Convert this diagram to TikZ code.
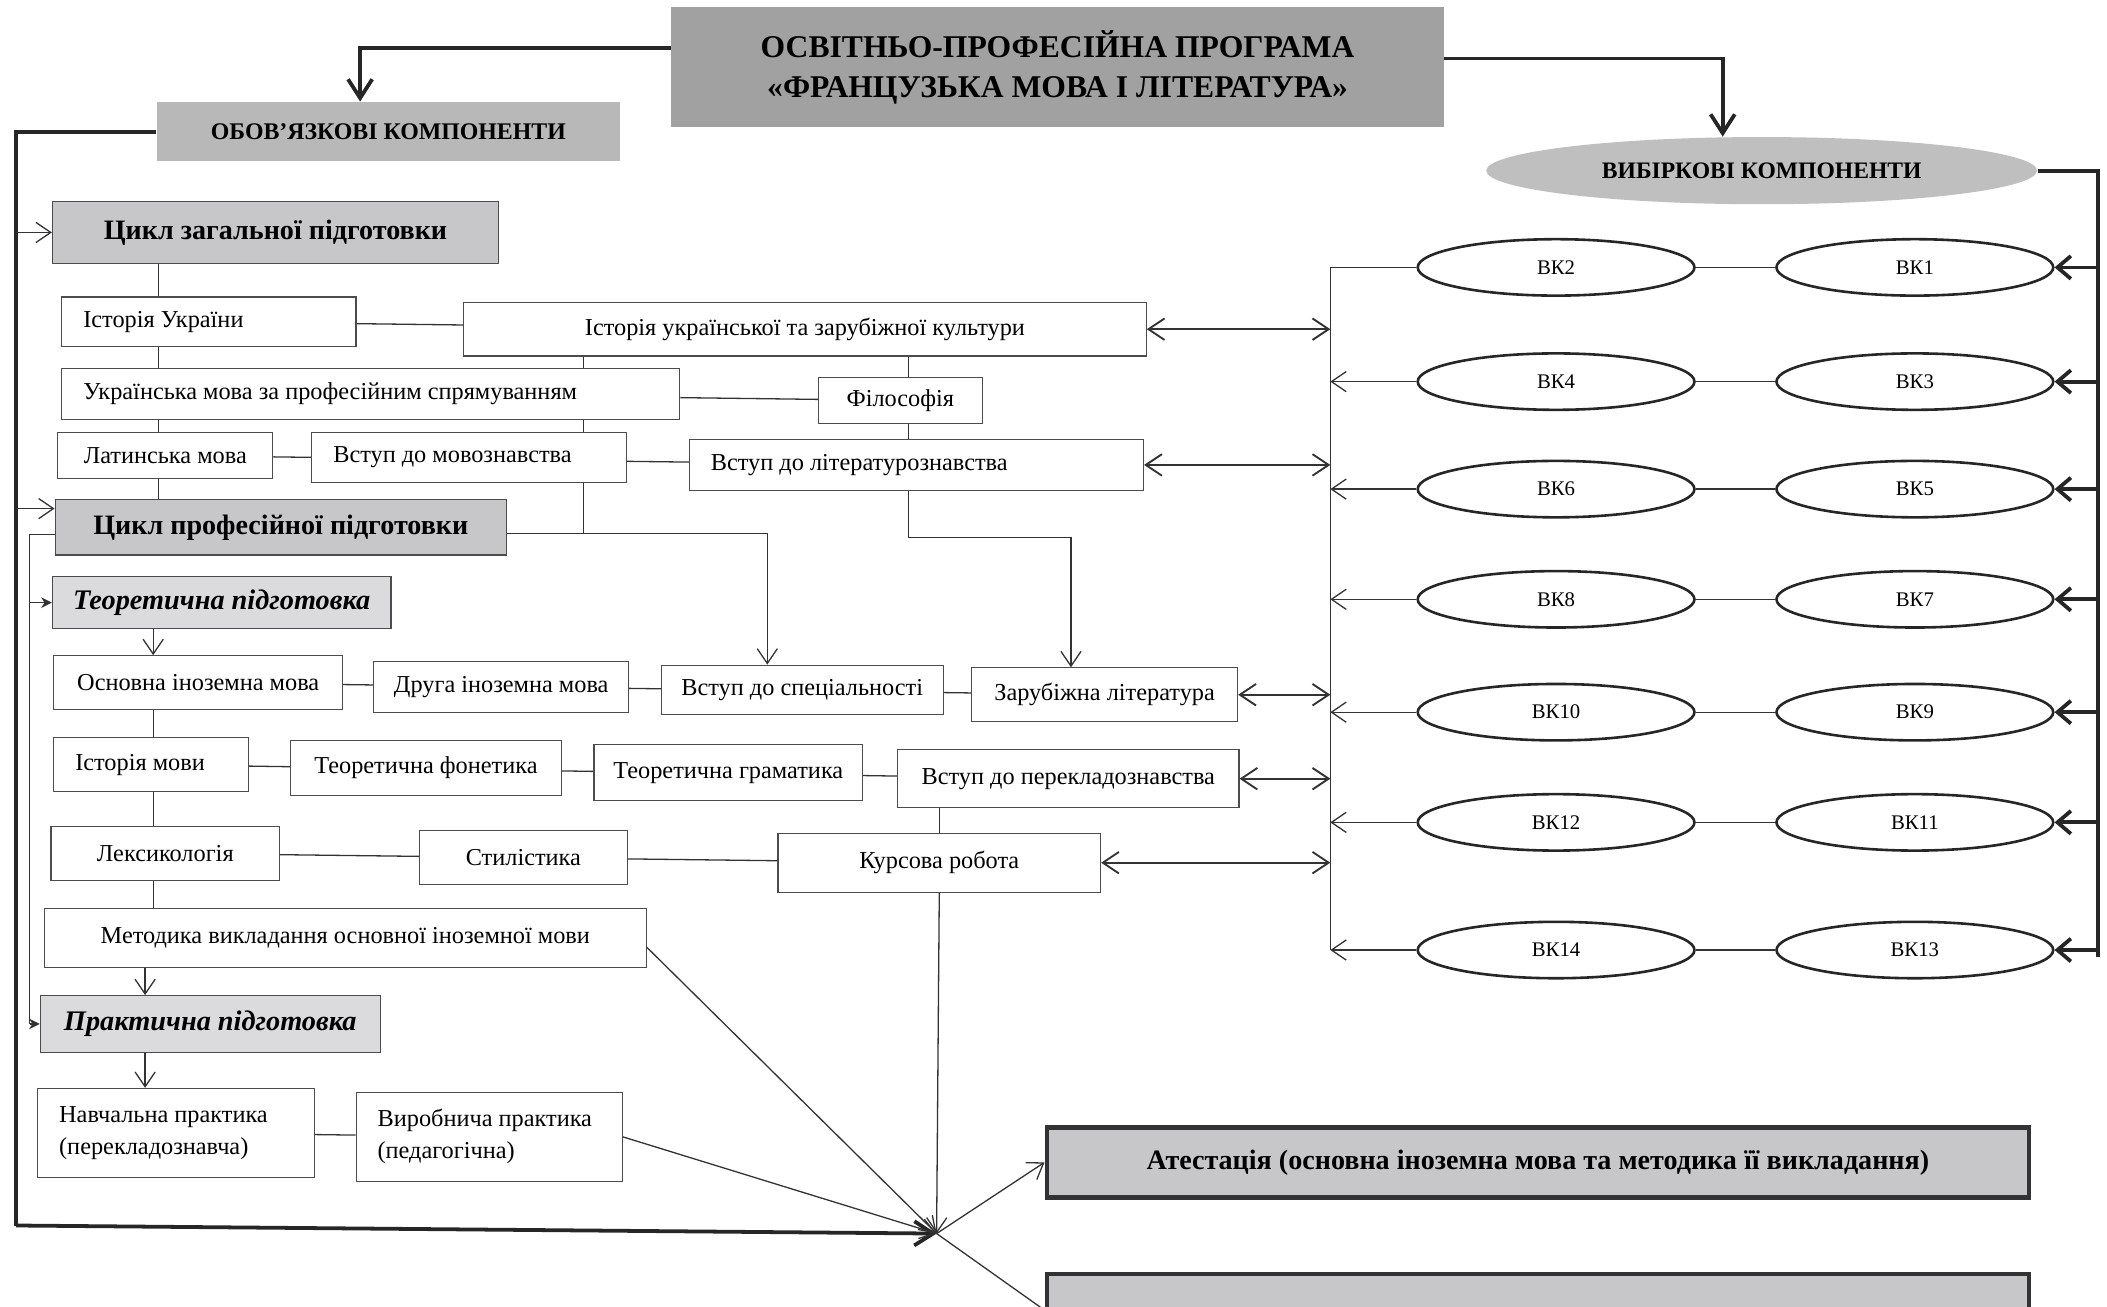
\documentclass[tikz,border=0pt]{standalone}
\usepackage{fontspec}
\setmainfont{Liberation Serif}
\usetikzlibrary{arrows.meta, shapes.geometric, backgrounds}
\begin{document}
\begin{tikzpicture}[
        x=0.02cm, y=-0.02cm,
        box/.style={draw=black!70, line width=0.5pt, fill=white, inner sep=0pt, font=\fontsize{10.3}{13.6}\selectfont},
        lbox/.style={box, inner xsep=0.32cm, align=flush left},
        hbox/.style={box, fill=blue!3!black!22, font=\fontsize{11.9}{14}\selectfont\bfseries},
        sbox/.style={box, fill=blue!5!black!14, font=\fontsize{12}{14}\selectfont\bfseries\itshape},
        vk/.style={ellipse, draw=black!85, line width=1.1pt, fill=white, minimum width=4.12cm, minimum height=0.84cm, inner sep=0pt, font=\fontsize{8.8}{10}\selectfont},
        link/.style={line width=0.55pt, black!80},
        arr/.style={link, -{Straight Barb[length=0.22cm, width=0.3cm]}},
        sarr/.style={link, -{Stealth[length=0.16cm, width=0.16cm]}},
        darr/.style={link, line width=0.8pt, {Straight Barb[length=0.24cm, width=0.32cm]}-{Straight Barb[length=0.24cm, width=0.32cm]}},
        main/.style={line width=1.6pt, black!85},
        marr/.style={main, -{Straight Barb[length=0.28cm, width=0.36cm]}},
        varr/.style={main, -{Straight Barb[length=0.2cm, width=0.34cm]}}
    ]
        \useasboundingbox (0,0) rectangle (1568,972);
        \clip (0,0) rectangle (1568,972);

        \node[box, draw=none, fill=black!37, minimum width=11.5cm, minimum height=1.78cm, align=center, font=\fontsize{13.4}{17}\selectfont\bfseries] (prog) at (787,50) {ОСВІТНЬО-ПРОФЕСІЙНА ПРОГРАМА\\«ФРАНЦУЗЬКА МОВА І ЛІТЕРАТУРА»};
        \node[box, draw=none, fill=black!28, minimum width=6.9cm, minimum height=0.88cm, font=\fontsize{10.1}{12}\selectfont\bfseries] (obov) at (289,98) {ОБОВ’ЯЗКОВІ КОМПОНЕНТИ};
        \node[ellipse, fill=black!25, minimum width=8.2cm, minimum height=1cm, inner sep=0pt, font=\fontsize{10}{12}\selectfont\bfseries] (vybir) at (1311,127) {ВИБІРКОВІ КОМПОНЕНТИ};

        \node[hbox, minimum width=6.64cm, minimum height=0.92cm] (zah) at (205,173) {Цикл загальної підготовки};
        \node[lbox, text width=3.74cm, minimum height=0.74cm] (istukr) at (155.5,239.5) {Історія України};
        \node[box, minimum width=10.16cm, minimum height=0.8cm] (kult) at (599,245) {Історія української та зарубіжної культури};
        \node[lbox, text width=8.56cm, minimum height=0.76cm] (ukrmova) at (276,293) {Українська мова за професійним спрямуванням};
        \node[box, minimum width=2.44cm, minimum height=0.68cm] (filos) at (670,298) {Філософія};
        \node[box, minimum width=3.2cm, minimum height=0.68cm] (latyn) at (123,339) {Латинська мова};
        \node[lbox, text width=4.04cm, minimum height=0.74cm] (movozn) at (349,340.5) {Вступ до мовознавства};
        \node[lbox, text width=6.12cm, minimum height=0.76cm] (litzn) at (682,346) {Вступ до літературознавства};

        \node[hbox, minimum width=6.72cm, minimum height=0.82cm] (prof) at (209,392.5) {Цикл професійної підготовки};
        \node[sbox, minimum width=5.04cm, minimum height=0.78cm] (teor) at (165,448.5) {Теоретична підготовка};
        \node[box, minimum width=4.3cm, minimum height=0.8cm] (osn) at (147.5,508) {Основна іноземна мова};
        \node[box, minimum width=3.8cm, minimum height=0.76cm] (druha) at (373,511) {Друга іноземна мова};
        \node[box, minimum width=4.2cm, minimum height=0.74cm] (spec) at (597,513.5) {Вступ до спеціальності};
        \node[box, minimum width=3.96cm, minimum height=0.8cm] (zarlit) at (822,517) {Зарубіжна література};
        \node[lbox, text width=2.26cm, minimum height=0.8cm] (istmovy) at (112.5,569) {Історія мови};
        \node[box, minimum width=4.04cm, minimum height=0.82cm] (fonet) at (317,571.5) {Теоретична фонетика};
        \node[box, minimum width=4cm, minimum height=0.84cm] (gram) at (542,575) {Теоретична граматика};
        \node[box, minimum width=5.08cm, minimum height=0.86cm] (perekl) at (795,579.5) {Вступ до перекладознавства};
        \node[box, minimum width=3.4cm, minimum height=0.8cm] (leks) at (123,635) {Лексикологія};
        \node[box, minimum width=3.1cm, minimum height=0.8cm] (styl) at (389.5,638) {Стилістика};
        \node[box, minimum width=4.8cm, minimum height=0.88cm] (kurs) at (699,642) {Курсова робота};
        \node[box, minimum width=8.96cm, minimum height=0.88cm] (metod) at (257,698) {Методика викладання основної іноземної мови};
        \node[sbox, minimum width=5.06cm, minimum height=0.84cm] (prakt) at (156.5,762) {Практична підготовка};
        \node[lbox, text width=3.48cm, minimum height=1.32cm] (navch) at (131,843) {Навчальна практика\\(перекладознавча)};
        \node[lbox, text width=3.32cm, minimum height=1.32cm] (vyrob) at (364,846) {Виробнича практика\\(педагогічна)};

        \node[box, draw=black!80, line width=2pt, fill=blue!3!black!22, minimum width=14.62cm, minimum height=1.04cm, font=\fontsize{11.9}{13}\selectfont\bfseries] (atest) at (1144.5,865) {Атестація (основна іноземна мова та методика її викладання)};
        \node[box, draw=black!80, line width=2pt, fill=blue!3!black!22, minimum width=14.62cm, minimum height=1.08cm] (atest2) at (1144.5,975) {};

        \coordinate (J) at (697,918);
        \coordinate (lcor) at (12,912);
        \coordinate (icor) at (22,762);
        \coordinate (rcor) at (1561,712);
        \coordinate (lv) at (990,199);
        \coordinate (l1) at (268,0);
        \coordinate (r1) at (1282,0);
        \coordinate (s1) at (118,0);
        \coordinate (s3) at (676,0);
        \coordinate (s4) at (114,0);
        \coordinate (s5) at (108,0);
        \coordinate (t1) at (571,0);
        \coordinate (t3) at (797,400);
        \coordinate (pin) at ([yshift=0.28cm]prof.west);
        \coordinate (pout) at ([yshift=-0.11cm]prof.west);
        \coordinate (pright) at ([yshift=-0.09cm]prof.east);
        \coordinate (s2) at (434,397);
        \coordinate (mout) at ([yshift=-0.14cm]metod.east);

        \begin{scope}[on background layer]
            \draw[link] (zah.south -| s1) -- (prof.north -| s1);
            \draw[link] (kult.south -| s2) -- (s2);
            \draw[link] (kult.south -| s3) -- (litzn.north -| s3);
            \draw[link] (osn.south -| s4) -- (metod.north -| s4);
            \draw[link] (perekl.south -| kurs) -- (kurs.north);
            \draw[link] (istukr) -- (kult);
            \draw[link] (ukrmova) -- (filos);
            \draw[link] (latyn) -- (litzn);
            \draw[link] (osn) -- (zarlit);
            \draw[link] (istmovy) -- (perekl);
            \draw[link] (leks) -- (kurs);
            \draw[link] (navch) -- (vyrob);
        \end{scope}

        \draw[marr] ([yshift=0.29cm]prog.west) -| (obov.north -| l1);
        \draw[marr] ([yshift=0.13cm]prog.east) -| (vybir.north -| r1);
        \draw[main] (obov.west) -| (lcor);
        \draw[marr] (lcor) -- (J);
        \draw[arr] (zah.west -| lcor) -- (zah.west);
        \draw[arr] (pin -| lcor) -- (pin);
        \draw[link] (pout) -| (icor);
        \draw[sarr] (teor.west -| icor) -- (teor.west);
        \draw[sarr] (icor) -- (prakt.west);

        \draw[arr] (pright) -| (spec.north -| t1);
        \draw[arr] (litzn.south -| s3) |- (t3) -- (zarlit.north -| t3);
        \draw[arr] (teor.south -| s4) -- (osn.north -| s4);
        \draw[arr] (metod.south -| s5) -- (prakt.north -| s5);
        \draw[arr] (prakt.south -| s5) -- (navch.north -| s5);

        \draw[arr] (mout) -- (J);
        \draw[arr] (kurs.south) -- (J);
        \draw[arr] (vyrob.east) -- (J);
        \draw[arr] (J) -- (atest.west);
        \draw[link] (J) -- (atest2.west);

        % elective components
        \foreach \l/\r/\y in {2/1/199, 4/3/284, 6/5/364, 8/7/446, 10/9/530, 12/11/612, 14/13/707} {
            \node[vk] (vk\l) at (1158,\y) {ВК\l};
            \node[vk] (vk\r) at (1425,\y) {ВК\r};
            \draw[link] (vk\l.east) -- (vk\r.west);
            \draw[varr] (vk\r.east -| rcor) -- (vk\r.east);
        }
        \draw[main] (vybir.east) -| (rcor);
        \draw[link] (vk2.west) -| (vk14.west -| lv);
        \foreach \l in {4,6,...,14}
            \draw[arr] (vk\l.west) -- (vk\l.west -| lv);
        \foreach \b in {kult, litzn, zarlit, perekl, kurs}
            \draw[darr] (\b.east) -- (\b.east -| lv);
    \end{tikzpicture}
\end{document}
